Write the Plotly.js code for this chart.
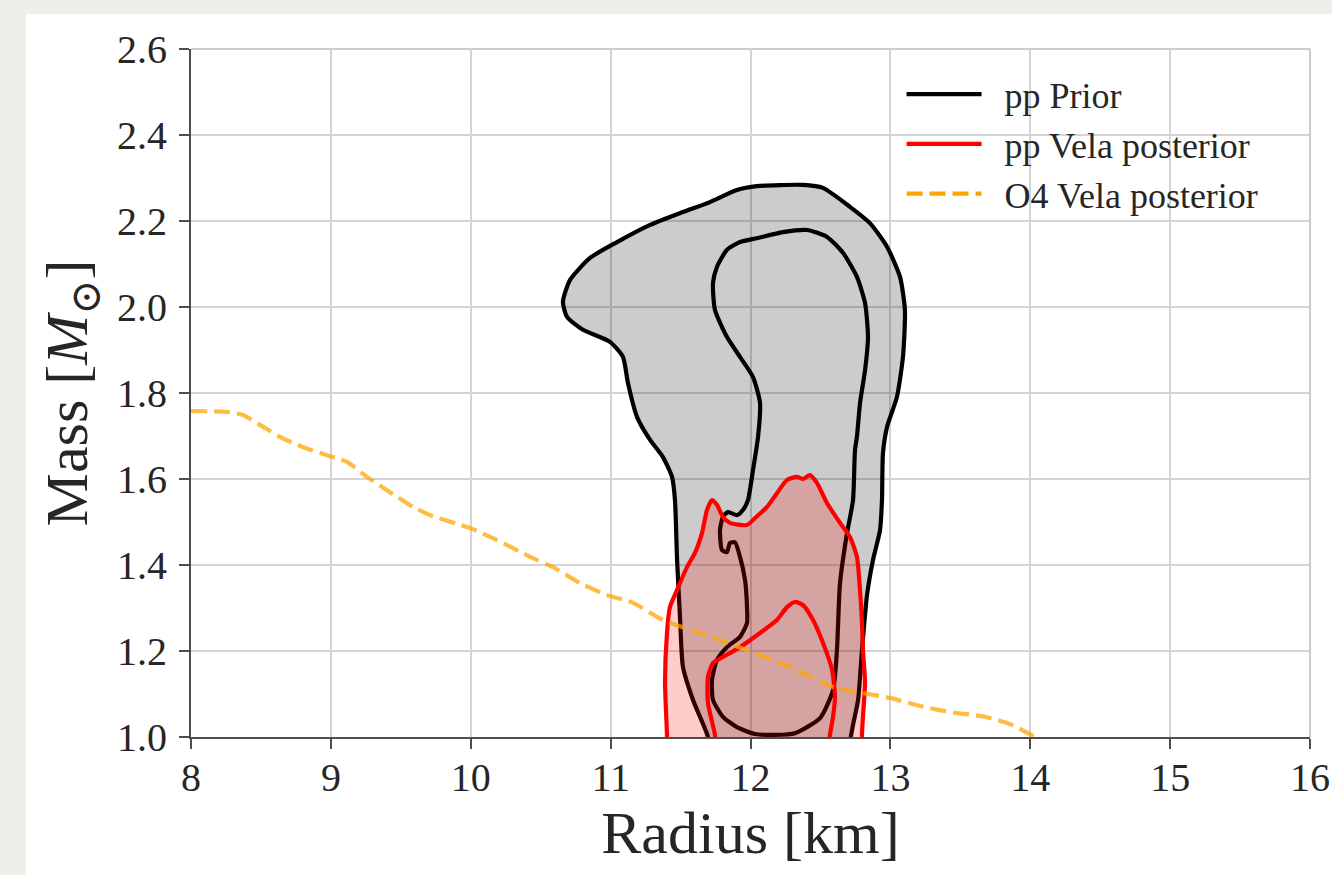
<!DOCTYPE html>
<html>
<head>
<meta charset="utf-8">
<script src="https://cdn.plot.ly/plotly-3.0.1.min.js"></script>
<style>
  html, body { margin: 0; padding: 0; background: #efefea; width: 1332px; height: 875px; overflow: hidden; }
  #panel { position: absolute; left: 26px; top: 14px; width: 1306px; height: 861px; background: #ffffff; }
</style>
</head>
<body>
<div id="panel"></div>
<script>
// ---- Data (Radius in km, Mass in solar masses) ----
// pp Prior: outer contour (open at the bottom, cut by the M = 1.0 axis)
const priorOuterR = [11.70, 11.696, 11.589, 11.517, 11.496, 11.475, 11.460, 11.439, 11.374, 11.282, 11.189, 11.124, 11.088, 10.995, 10.802, 10.688, 10.659, 10.710, 10.853, 11.046, 11.282, 11.517, 11.710, 11.903, 12.046, 12.375, 12.518, 12.711, 12.854, 12.976, 13.069, 13.104, 13.090, 13.047, 12.976, 12.947, 12.940, 12.926, 12.876, 12.833, 12.797, 12.769, 12.733, 12.70];
const priorOuterM = [0.97, 1.000, 1.086, 1.163, 1.279, 1.412, 1.551, 1.605, 1.651, 1.691, 1.744, 1.823, 1.884, 1.919, 1.947, 1.977, 2.012, 2.063, 2.114, 2.151, 2.191, 2.221, 2.244, 2.272, 2.281, 2.284, 2.277, 2.233, 2.195, 2.140, 2.070, 1.993, 1.884, 1.791, 1.721, 1.660, 1.551, 1.481, 1.412, 1.330, 1.202, 1.086, 1.028, 0.97];
// pp Prior: inner contour (closed)
const priorInnerR = [12.404, 12.232, 12.046, 11.925, 11.832, 11.760, 11.732, 11.746, 11.832, 11.925, 12.018, 12.068, 12.054, 12.018, 11.982, 11.946, 11.903, 11.839, 11.803, 11.782, 11.796, 11.832, 11.853, 11.889, 11.925, 11.961, 11.975, 11.975, 11.925, 11.832, 11.760, 11.725, 11.732, 11.803, 11.903, 12.032, 12.175, 12.318, 12.497, 12.590, 12.618, 12.640, 12.690, 12.733, 12.747, 12.761, 12.783, 12.819, 12.840, 12.819, 12.761, 12.661, 12.547, 12.404];
const priorInnerM = [2.179, 2.174, 2.160, 2.151, 2.133, 2.093, 2.056, 1.993, 1.930, 1.884, 1.837, 1.777, 1.698, 1.621, 1.551, 1.528, 1.516, 1.523, 1.512, 1.481, 1.435, 1.430, 1.451, 1.453, 1.419, 1.365, 1.302, 1.265, 1.233, 1.209, 1.179, 1.133, 1.086, 1.047, 1.023, 1.007, 1.005, 1.009, 1.044, 1.109, 1.202, 1.358, 1.474, 1.551, 1.667, 1.698, 1.777, 1.853, 1.930, 2.009, 2.070, 2.126, 2.163, 2.179];
// pp Vela posterior: outer contour (open at the bottom)
const velaOuterR = [11.403, 11.403, 11.389, 11.403, 11.424, 11.475, 11.546, 11.603, 11.653, 11.689, 11.725, 11.760, 11.803, 11.853, 11.975, 12.032, 12.118, 12.189, 12.261, 12.332, 12.375, 12.425, 12.475, 12.547, 12.640, 12.711, 12.761, 12.783, 12.797, 12.804, 12.819, 12.804, 12.797, 12.797];
const velaOuterM = [0.97, 1.005, 1.126, 1.242, 1.302, 1.342, 1.395, 1.428, 1.474, 1.528, 1.551, 1.540, 1.512, 1.498, 1.493, 1.509, 1.535, 1.567, 1.598, 1.605, 1.600, 1.609, 1.591, 1.544, 1.498, 1.465, 1.419, 1.342, 1.265, 1.202, 1.126, 1.047, 1.005, 0.97];
// pp Vela posterior: inner contour (open at the bottom)
const velaInnerR = [11.753, 11.746, 11.696, 11.696, 11.732, 11.803, 11.925, 12.068, 12.189, 12.261, 12.318, 12.375, 12.447, 12.518, 12.583, 12.604, 12.590, 12.568, 12.56];
const velaInnerM = [0.97, 1.005, 1.079, 1.140, 1.172, 1.186, 1.209, 1.242, 1.272, 1.302, 1.314, 1.307, 1.272, 1.219, 1.156, 1.093, 1.047, 1.005, 0.97];
// O4 Vela posterior curve
const o4R = [8.0, 8.257, 8.372, 8.493, 8.636, 8.801, 8.994, 9.115, 9.258, 9.401, 9.587, 9.709, 9.995, 10.188, 10.424, 10.588, 10.781, 10.974, 11.160, 11.374, 11.639, 11.975, 12.282, 12.590, 12.804, 12.997, 13.212, 13.426, 13.676, 13.855, 14.034];
const o4M = [1.758, 1.756, 1.749, 1.726, 1.698, 1.674, 1.653, 1.640, 1.605, 1.574, 1.535, 1.516, 1.486, 1.458, 1.419, 1.395, 1.358, 1.330, 1.312, 1.272, 1.242, 1.202, 1.163, 1.116, 1.102, 1.091, 1.072, 1.058, 1.047, 1.030, 1.000];

const seriesNames = ['pp Prior', 'pp Vela posterior', 'O4 Vela posterior'];
const xTickVals = [8, 9, 10, 11, 12, 13, 14, 15, 16];
const yTickVals = [1.0, 1.2, 1.4, 1.6, 1.8, 2.0, 2.2, 2.4, 2.6];

const FONT = '"Liberation Serif", "DejaVu Serif", serif';
const TXT = '#262626';
const LW = 4.2;
const GAP = '\u2002';

const traces = [
  { x: priorOuterR, y: priorOuterM, type: 'scatter', mode: 'lines', fill: 'toself',
    fillcolor: 'rgba(0,0,0,0.2)', line: { color: '#000000', width: LW, shape: 'spline', smoothing: 0.6 },
    showlegend: false, hoverinfo: 'skip' },
  { x: priorInnerR, y: priorInnerM, type: 'scatter', mode: 'lines', name: GAP + seriesNames[0],
    line: { color: '#000000', width: LW, shape: 'spline', smoothing: 0.6 }, showlegend: true },
  { x: velaOuterR, y: velaOuterM, type: 'scatter', mode: 'lines', fill: 'toself',
    fillcolor: 'rgba(255,0,0,0.2)', line: { color: '#ff0000', width: LW, shape: 'spline', smoothing: 0.6 },
    showlegend: false, hoverinfo: 'skip' },
  { x: velaInnerR, y: velaInnerM, type: 'scatter', mode: 'lines', name: GAP + seriesNames[1],
    line: { color: '#ff0000', width: LW, shape: 'spline', smoothing: 0.6 }, showlegend: true },
  { x: o4R, y: o4M, type: 'scatter', mode: 'lines', name: seriesNames[2],
    line: { color: 'rgba(255,165,0,0.75)', width: 4.2, dash: '16px,7px', shape: 'spline', smoothing: 0.6 },
    showlegend: false },
  { x: [null], y: [null], type: 'scatter', mode: 'lines', name: GAP + seriesNames[2],
    line: { color: '#ffa500', width: 4.2, dash: '16px,7px' }, showlegend: true }
];

const layout = {
  width: 1306, height: 861,
  paper_bgcolor: '#ffffff', plot_bgcolor: '#ffffff',
  margin: { l: 165, r: 22, t: 35, b: 138 },
  font: { family: FONT, color: TXT },
  showlegend: true,
  legend: {
    x: 0.635, y: 0.978, xanchor: 'left', yanchor: 'top',
    bgcolor: 'rgba(255,255,255,0)', borderwidth: 0,
    font: { family: FONT, size: 36, color: TXT },
    itemwidth: 75
  },
  xaxis: {
    range: [8, 16], tickvals: xTickVals, ticktext: xTickVals.map(String),
    showgrid: true, gridcolor: '#d4d4d4', gridwidth: 2,
    zeroline: false, showline: true, linecolor: '#4d4d4d', linewidth: 2,
    ticks: 'outside', ticklen: 10, tickwidth: 2, tickcolor: '#4d4d4d',
    ticklabelstandoff: -6,
    tickfont: { family: FONT, size: 40, color: TXT },
    title: { text: 'Radius [km]', font: { family: FONT, size: 60, color: TXT }, standoff: 4 }
  },
  yaxis: {
    range: [1.0, 2.6], tickvals: yTickVals, ticktext: yTickVals.map(v => v.toFixed(1)),
    showgrid: true, gridcolor: '#d4d4d4', gridwidth: 2,
    zeroline: false, showline: true, linecolor: '#4d4d4d', linewidth: 2,
    ticks: 'outside', ticklen: 10, tickwidth: 2, tickcolor: '#4d4d4d',
    ticklabelstandoff: 4,
    tickfont: { family: FONT, size: 40, color: TXT },
    title: { text: 'Mass [<i>M</i><sub>⊙</sub>]', font: { family: FONT, size: 60, color: TXT }, standoff: 10 }
  },
  shapes: [
    { type: 'line', xref: 'paper', yref: 'paper', x0: 0, x1: 1, y0: 1, y1: 1, line: { color: '#cccccc', width: 2 }, layer: 'below' },
    { type: 'line', xref: 'paper', yref: 'paper', x0: 1, x1: 1, y0: 0, y1: 1, line: { color: '#cccccc', width: 2 }, layer: 'below' }
  ]
};

Plotly.newPlot('panel', traces, layout, { displayModeBar: false, staticPlot: true });
</script>
</body>
</html>
